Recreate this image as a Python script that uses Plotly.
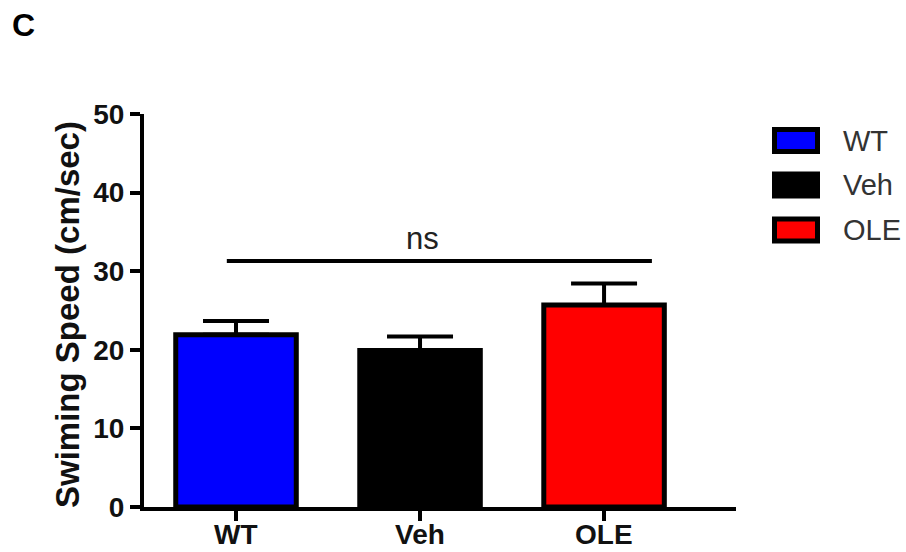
import plotly.graph_objects as go

# ---- data ----
categories = ["WT", "Veh", "OLE"]
means = [21.9, 19.9, 25.7]
sem = [1.75, 1.8, 2.75]
bar_colors = ["#0000FF", "#000000", "#FF0000"]
y_ticks = [0, 10, 20, 30, 40, 50]
y_title = "Swiming Speed (cm/sec)"
panel_label = "C"
ns_label = "ns"
ns_level = 31.3
ns_text_level = 34.2
ns_span = [-0.05, 2.26]

# ---- layout geometry (pixels) ----
W, H = 906, 552
L, R, T, B = 144, 170, 114, 45
PW, PH = W - L - R, H - T - B
FONT = "Liberation Sans, Arial, sans-serif"


def px_to_paper(px, py):
    return (px - L) / PW, (H - B - py) / PH


x = list(range(len(categories)))
fig = go.Figure()
fig.add_trace(go.Bar(
    x=x, y=means, width=0.655,
    marker=dict(color=bar_colors, line=dict(color="black", width=5)),
    error_y=dict(type="data", array=sem, arrayminus=[0] * len(sem), symmetric=False,
                 color="black", thickness=4, width=33),
    showlegend=False,
))

axis_common = dict(
    showline=True, linewidth=4, linecolor="black", mirror=False,
    ticks="outside", ticklen=10, tickwidth=3.5, tickcolor="black",
    showgrid=False, zeroline=False, automargin=False,
    tickfont=dict(family=FONT, size=28, color="#111111", weight="bold"),
)

fig.update_layout(
    width=W, height=H,
    margin=dict(l=L, r=R, t=T, b=B, pad=0, autoexpand=False),
    paper_bgcolor="white", plot_bgcolor="white",
    xaxis=dict(range=[-0.5, 2.717], tickvals=x, ticktext=categories,
               showticklabels=False, **axis_common),
    yaxis=dict(range=[0, 50], tickvals=y_ticks, **axis_common),
    showlegend=False,
)

# x category labels (placed closer to the axis than plotly's default)
_, lab_y = px_to_paper(0, 534)
for xi, name in zip(x, categories):
    fig.add_annotation(xref="x", yref="paper", x=xi, y=lab_y, text=name,
                       showarrow=False, xanchor="center", yanchor="middle",
                       font=dict(family=FONT, size=28, color="#111111", weight="bold"))

# significance bracket
fig.add_shape(type="line", xref="x", yref="y", x0=ns_span[0], x1=ns_span[1],
              y0=ns_level, y1=ns_level, line=dict(color="black", width=4))
fig.add_annotation(xref="x", yref="y", x=1.016, y=ns_text_level, text=ns_label,
                   showarrow=False, xanchor="center", yanchor="middle",
                   font=dict(family=FONT, size=31, color="#222222"))

# y-axis title
tx, ty = px_to_paper(67, 315)
fig.add_annotation(xref="paper", yref="paper", x=tx, y=ty, text=y_title, textangle=-90,
                   showarrow=False, xanchor="center", yanchor="middle",
                   font=dict(family=FONT, size=33, color="#111111", weight="bold"))

# panel label
cx, cy = px_to_paper(23.5, 25)
fig.add_annotation(xref="paper", yref="paper", x=cx, y=cy, text=panel_label,
                   showarrow=False, xanchor="center", yanchor="middle",
                   font=dict(family=FONT, size=32, color="black", weight="bold"))

# legend (custom swatches)
legend_centers = [140.5, 185, 230]
for name, col, cyp in zip(categories, bar_colors, legend_centers):
    x0, y0 = px_to_paper(774.5, cyp - 11)
    x1, y1 = px_to_paper(817.5, cyp + 11)
    fig.add_shape(type="rect", xref="paper", yref="paper", x0=x0, x1=x1, y0=y0, y1=y1,
                  fillcolor=col, line=dict(color="black", width=5))
    lx, ly = px_to_paper(841, cyp)
    fig.add_annotation(xref="paper", yref="paper", x=lx, y=ly, text=name,
                       showarrow=False, xanchor="left", yanchor="middle",
                       font=dict(family=FONT, size=29, color="#333333"))

fig.write_html("out.html")
